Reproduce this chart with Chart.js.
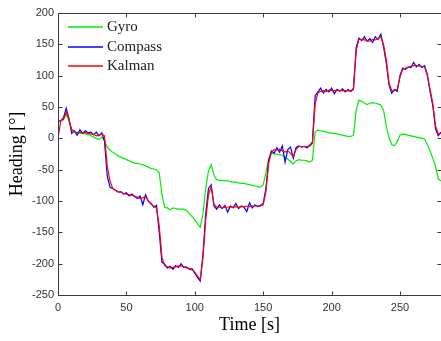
<!DOCTYPE html>
<html lang="en">
  <head>
    <meta charset="UTF-8" />
    <title>Heading vs Time</title>
    <script src="https://cdn.jsdelivr.net/npm/chart.js"></script>
    <style>
      html, body { margin: 0; padding: 0; background: #fff; }
      #wrap { width: 441px; height: 341px; }
    </style>
  </head>
  <body>
    <div id="wrap"><canvas id="headingChart"></canvas></div>

    <script>
      // time axis [s]
      const time = [
        0, 2, 4, 6, 8, 10, 12, 14, 16, 18, 20, 22, 24, 26, 28, 30, 32, 34, 36, 38,
        40, 42, 44, 46, 48, 50, 52, 54, 56, 58, 60, 62, 64, 66, 68, 70, 72, 74, 76, 78,
        80, 82, 84, 86, 88, 90, 92, 94, 96, 98, 100, 102, 104, 106, 108, 110, 112, 114, 116, 118,
        120, 122, 124, 126, 128, 130, 132, 134, 136, 138, 140, 142, 144, 146, 148, 150, 152, 154, 156, 158,
        160, 162, 164, 166, 168, 170, 172, 174, 176, 178, 180, 182, 184, 186, 188, 190, 192, 194, 196, 198,
        200, 202, 204, 206, 208, 210, 212, 214, 216, 218, 220, 222, 224, 226, 228, 230, 232, 234, 236, 238,
        240, 242, 244, 246, 248, 250, 252, 254, 256, 258, 260, 262, 264, 266, 268, 270, 272, 274, 276, 278,
        280
      ];

      const gyro = [
        27, 28, 30, 38, 28, 14, 10, 9, 8, 8, 7, 6, 4, 2, 0, -2, 2, -3, -14, -19,
        -22, -25, -28, -30, -32, -34, -36, -38, -40, -40, -41, -42, -44, -46, -48, -49, -50, -55, -90, -110,
        -111, -114, -111, -112, -113, -113, -113, -115, -120, -125, -130, -136, -142, -120, -80, -52, -42, -58, -66, -67,
        -67, -68, -68, -69, -70, -70, -71, -72, -72, -73, -74, -75, -76, -77, -78, -74, -55, -32, -24, -25,
        -25, -26, -27, -30, -33, -37, -41, -36, -34, -35, -35, -36, -38, -35, 10, 13, 12, 11, 10, 9,
        8, 8, 7, 6, 5, 4, 3, 3, 5, 45, 61, 59, 56, 54, 56, 57, 56, 55, 53, 45,
        20, 0, -10, -12, -5, 5, 7, 6, 5, 4, 3, 2, 1, 0, -1, -10, -20, -32, -45, -65,
        -68
      ];

      const compass = [
        27, 28, 33, 48, 32, 8, 12, 5, 14, 8, 12, 9, 10, 6, 10, 4, 9, -5, -60, -78,
        -80, -83, -86, -85, -89, -87, -92, -89, -93, -96, -92, -106, -90, -100, -104, -110, -107, -150, -198, -201,
        -207, -204, -209, -203, -206, -200, -206, -205, -209, -208, -215, -222, -228, -185, -120, -80, -74, -108, -113, -106,
        -112, -107, -118, -108, -111, -104, -112, -108, -110, -117, -103, -111, -106, -109, -107, -104, -80, -35, -20, -24,
        -15, -22, -12, -38, -18, -14, -32, -15, -12, -14, -13, -15, -11, -6, 68, 74, 80, 72, 78, 74,
        80, 71, 78, 75, 79, 74, 78, 75, 80, 145, 160, 156, 162, 155, 159, 153, 162, 158, 166, 146,
        120, 85, 72, 78, 75, 100, 112, 110, 114, 113, 121, 114, 118, 113, 116, 102, 75, 52, 15, 4,
        10
      ];

      const kalman = [
        0, 28, 30, 42, 30, 14, 10, 9, 10, 9, 9, 8, 7, 6, 4, 5, 7, 4, -45, -68,
        -80, -83, -85, -86, -88, -89, -90, -91, -92, -94, -96, -95, -93, -100, -105, -108, -111, -140, -190, -203,
        -205, -207, -206, -205, -204, -204, -205, -207, -208, -210, -213, -220, -225, -190, -130, -90, -77, -105, -110, -110,
        -111, -110, -110, -109, -110, -109, -110, -109, -109, -108, -109, -108, -108, -108, -108, -106, -85, -40, -22, -18,
        -19, -17, -20, -22, -20, -24, -29, -18, -13, -13, -13, -13, -12, -8, 55, 73, 75, 76, 75, 77,
        76, 76, 77, 76, 76, 76, 76, 75, 78, 140, 158, 158, 157, 156, 155, 158, 157, 159, 162, 150,
        125, 88, 76, 76, 78, 98, 110, 112, 113, 115, 116, 116, 115, 115, 114, 100, 78, 56, 20, 7,
        8
      ];

      const seriesNames = ["Gyro", "Compass", "Kalman"];
      const seriesColors = ["#00ee00", "#0000ff", "#ff0000"];
      const xTicks = [0, 50, 100, 150, 200, 250];
      const yTicks = [-250, -200, -150, -100, -50, 0, 50, 100, 150, 200];

      const toPoints = (ys) => ys.map((y, i) => ({ x: time[i], y: y }));

      // box with inward ticks plus the legend inside the plot
      const matlabFrame = {
        id: "matlabFrame",
        afterDraw(chart) {
          const ctx = chart.ctx;
          const a = chart.chartArea;
          const xs = chart.scales.x;
          const ys = chart.scales.y;
          const L = Math.round(a.left) + 0.5;
          const R = Math.round(a.right) + 0.5;
          const T = Math.round(a.top) + 0.5;
          const B = Math.round(a.bottom) + 0.5;
          ctx.save();
          ctx.strokeStyle = "#3a3a3a";
          ctx.lineWidth = 1;
          ctx.beginPath();
          ctx.rect(L, T, R - L, B - T);
          const tl = 4;
          xTicks.forEach((v) => {
            const px = Math.round(xs.getPixelForValue(v)) + 0.5;
            ctx.moveTo(px, B); ctx.lineTo(px, B - tl);
            ctx.moveTo(px, T); ctx.lineTo(px, T + tl);
          });
          yTicks.forEach((v) => {
            const py = Math.round(ys.getPixelForValue(v)) + 0.5;
            ctx.moveTo(L, py); ctx.lineTo(L + tl, py);
            ctx.moveTo(R, py); ctx.lineTo(R - tl, py);
          });
          ctx.stroke();

          // legend
          ctx.font = "15px 'Liberation Serif', 'DejaVu Serif', serif";
          ctx.textBaseline = "middle";
          seriesNames.forEach((name, i) => {
            const y = Math.round(a.top + 14 + i * 19.5);
            ctx.beginPath();
            ctx.strokeStyle = seriesColors[i];
            ctx.lineWidth = 1.5;
            ctx.moveTo(a.left + 10, y);
            ctx.lineTo(a.left + 45, y);
            ctx.stroke();
            ctx.fillStyle = "#222";
            ctx.fillText(name, a.left + 49, y);
          });
          ctx.restore();
        },
      };

      const tickFont = { family: "'Liberation Sans', Arial, sans-serif", size: 11 };
      const titleFont = { family: "'Liberation Serif', 'Times New Roman', serif", size: 18 };

      new Chart(document.getElementById("headingChart"), {
        type: "line",
        data: {
          datasets: [gyro, compass, kalman].map((ys, i) => ({
            label: seriesNames[i],
            data: toPoints(ys),
            borderColor: seriesColors[i],
            borderWidth: 1.2,
            pointRadius: 0,
            tension: 0,
            order: 3 - i,
          })),
        },
        options: {
          responsive: true,
          maintainAspectRatio: false,
          animation: false,
          layout: { padding: { top: 13, right: 0, bottom: 0, left: 0 } },
          plugins: { legend: { display: false }, tooltip: { enabled: false } },
          scales: {
            x: {
              type: "linear",
              min: 0,
              max: 280,
              grid: { display: false, drawTicks: false },
              border: { display: false },
              afterBuildTicks: (s) => { s.ticks = xTicks.map((v) => ({ value: v })); },
              afterFit: (s) => { s.height = 46; },
              ticks: { color: "#333", font: tickFont, padding: 6, maxRotation: 0 },
              title: {
                display: true,
                text: "Time [s]",
                color: "#000",
                font: titleFont,
                padding: { top: 0, bottom: 5 },
              },
            },
            y: {
              min: -250,
              max: 200,
              grid: { display: false, drawTicks: false },
              border: { display: false },
              afterBuildTicks: (s) => { s.ticks = yTicks.map((v) => ({ value: v })); },
              afterFit: (s) => { s.width = 58; },
              ticks: { color: "#333", font: tickFont, padding: 4 },
              title: {
                display: true,
                text: "Heading [°]",
                color: "#000",
                font: titleFont,
                padding: { top: 6, bottom: 0 },
              },
            },
          },
        },
        plugins: [matlabFrame],
      });
    </script>
  </body>
</html>
